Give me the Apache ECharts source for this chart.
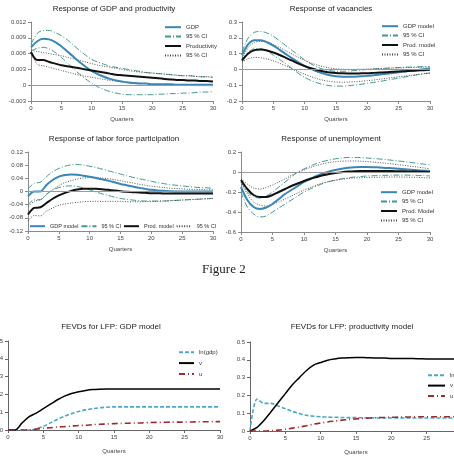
<!DOCTYPE html>
<html>
<head>
<meta charset="utf-8">
<script src="https://cdn.jsdelivr.net/npm/echarts@6/dist/echarts.min.js"></script>
<style>
html,body{margin:0;padding:0;background:#fff;}
#c{width:454px;height:468px;}
</style>
</head>
<body>
<div id="c"></div>
<script>
const quarters = [0,1,2,3,4,5,6,7,8,9,10,11,12,13,14,15,16,17,18,19,20,21,22,23,24,25,26,27,28,29,30];
const xTicks = [0,5,10,15,20,25,30];

// Panel 1: Response of GDP and productivity
const p1Ticks = [-0.003,0,0.003,0.006,0.009,0.012];
const p1Gdp   = [0.0072,0.0083,0.0088,0.0087,0.0082,0.0074,0.0064,0.0054,0.0044,0.0035,0.0027,0.0021,0.0016,0.0012,0.0009,0.0007,0.0005,0.0004,0.0003,0.0003,0.0002,0.0002,0.0002,0.0002,0.0001,0.0001,0.0001,0.0001,0.0001,0.0001,0.0001];
const p1GdpHi = [0.0078,0.0098,0.0104,0.0104,0.0100,0.0094,0.0086,0.0076,0.0066,0.0057,0.0049,0.0044,0.0040,0.0036,0.0034,0.0032,0.0030,0.0028,0.0026,0.0024,0.0023,0.0022,0.0021,0.0020,0.0019,0.0018,0.0018,0.0017,0.0016,0.0016,0.0015];
const p1GdpLo = [0.0065,0.0070,0.0072,0.0069,0.0062,0.0053,0.0042,0.0031,0.0021,0.0012,0.0004,-0.0003,-0.0008,-0.0012,-0.0015,-0.0017,-0.0018,-0.0018,-0.0018,-0.0018,-0.0018,-0.0017,-0.0017,-0.0016,-0.0016,-0.0015,-0.0015,-0.0014,-0.0013,-0.0013,-0.0012];
const p1Prod  = [0.0063,0.0048,0.0048,0.0044,0.0041,0.0038,0.0036,0.0034,0.0032,0.0030,0.0028,0.0026,0.0024,0.0022,0.0020,0.0019,0.0018,0.0017,0.0016,0.0015,0.0014,0.0013,0.0012,0.0011,0.0010,0.0010,0.0009,0.0009,0.0008,0.0008,0.0007];
const p1ProdHi= [0.0066,0.0064,0.0062,0.0060,0.0058,0.0056,0.0053,0.0050,0.0047,0.0044,0.0041,0.0038,0.0036,0.0034,0.0032,0.0030,0.0028,0.0026,0.0025,0.0024,0.0023,0.0022,0.0021,0.0020,0.0019,0.0018,0.0018,0.0017,0.0016,0.0016,0.0015];
const p1ProdLo= [0.0062,0.0040,0.0037,0.0034,0.0031,0.0028,0.0025,0.0022,0.0019,0.0017,0.0015,0.0013,0.0011,0.0009,0.0008,0.0007,0.0006,0.0005,0.0004,0.0003,0.0002,0.0002,0.0001,0.0001,0.0000,0.0000,0.0000,-0.0001,-0.0001,-0.0001,-0.0001];

// Panel 2: Response of vacancies
const p2Ticks = [-0.2,-0.1,0,0.1,0.2,0.3];
const p2Gdp   = [0.09,0.16,0.185,0.185,0.172,0.150,0.124,0.097,0.070,0.044,0.022,0.003,-0.013,-0.027,-0.037,-0.043,-0.046,-0.047,-0.046,-0.044,-0.041,-0.037,-0.033,-0.028,-0.023,-0.018,-0.013,-0.008,-0.003,0.001,0.005];
const p2GdpHi = [0.11,0.20,0.235,0.24,0.23,0.21,0.18,0.15,0.12,0.09,0.06,0.035,0.015,0.0,-0.008,-0.012,-0.012,-0.010,-0.007,-0.004,0.0,0.003,0.006,0.008,0.010,0.012,0.014,0.015,0.016,0.017,0.018];
const p2GdpLo = [0.06,0.11,0.13,0.13,0.115,0.09,0.063,0.035,0.005,-0.025,-0.05,-0.07,-0.085,-0.096,-0.103,-0.106,-0.106,-0.103,-0.099,-0.094,-0.088,-0.082,-0.076,-0.069,-0.062,-0.055,-0.048,-0.041,-0.034,-0.028,-0.022];
const p2Prod  = [0.055,0.10,0.122,0.126,0.12,0.107,0.091,0.073,0.055,0.037,0.021,0.007,-0.004,-0.013,-0.019,-0.023,-0.025,-0.026,-0.026,-0.025,-0.024,-0.022,-0.020,-0.018,-0.015,-0.013,-0.011,-0.009,-0.007,-0.005,-0.003];
const p2ProdHi= [0.07,0.14,0.17,0.178,0.172,0.157,0.139,0.118,0.097,0.076,0.057,0.041,0.028,0.017,0.009,0.004,0.001,0.0,0.0,0.001,0.002,0.003,0.005,0.006,0.008,0.009,0.011,0.012,0.013,0.014,0.015];
const p2ProdLo= [0.045,0.068,0.076,0.074,0.066,0.054,0.039,0.022,0.004,-0.014,-0.031,-0.046,-0.059,-0.069,-0.076,-0.080,-0.081,-0.080,-0.078,-0.075,-0.071,-0.067,-0.062,-0.057,-0.052,-0.047,-0.042,-0.037,-0.032,-0.028,-0.024];

// Panel 3: Response of labor force participation
const p3Ticks = [-0.12,-0.08,-0.04,0,0.04,0.08,0.12];
const p3Gdp   = [-0.015,0.0,0.0,0.02,0.035,0.045,0.050,0.052,0.051,0.048,0.045,0.041,0.037,0.033,0.028,0.023,0.019,0.015,0.011,0.008,0.005,0.003,0.002,0.001,0.0,0.0,0.0,0.0,0.0,0.0,0.0];
const p3GdpHi = [0.008,0.025,0.028,0.045,0.060,0.070,0.077,0.081,0.082,0.080,0.077,0.073,0.068,0.063,0.058,0.053,0.048,0.043,0.039,0.035,0.031,0.027,0.024,0.021,0.019,0.017,0.015,0.013,0.012,0.011,0.010];
const p3GdpLo = [-0.040,-0.025,-0.025,-0.008,0.005,0.012,0.016,0.017,0.015,0.011,0.005,-0.001,-0.007,-0.012,-0.017,-0.021,-0.024,-0.026,-0.028,-0.029,-0.029,-0.029,-0.029,-0.028,-0.027,-0.026,-0.025,-0.024,-0.023,-0.022,-0.021];
const p3Prod  = [-0.070,-0.050,-0.048,-0.035,-0.022,-0.012,-0.004,0.002,0.006,0.008,0.008,0.008,0.007,0.005,0.003,0.001,-0.001,-0.002,-0.003,-0.004,-0.005,-0.005,-0.006,-0.006,-0.006,-0.006,-0.006,-0.006,-0.006,-0.006,-0.006];
const p3ProdHi= [-0.045,-0.030,-0.025,-0.010,0.005,0.018,0.027,0.033,0.038,0.041,0.042,0.042,0.041,0.039,0.036,0.033,0.029,0.026,0.022,0.019,0.016,0.014,0.012,0.010,0.009,0.008,0.007,0.006,0.006,0.005,0.005];
const p3ProdLo= [-0.090,-0.073,-0.074,-0.060,-0.050,-0.042,-0.038,-0.035,-0.033,-0.031,-0.030,-0.030,-0.030,-0.030,-0.030,-0.030,-0.031,-0.031,-0.031,-0.031,-0.030,-0.030,-0.029,-0.028,-0.027,-0.026,-0.025,-0.024,-0.023,-0.022,-0.021];

// Panel 4: Response of unemployment
const p4Ticks = [-0.6,-0.4,-0.2,0,0.2];
const p4Gdp   = [-0.15,-0.28,-0.35,-0.37,-0.355,-0.32,-0.27,-0.22,-0.18,-0.14,-0.10,-0.07,-0.04,-0.015,0.005,0.02,0.033,0.042,0.048,0.05,0.05,0.048,0.045,0.041,0.037,0.032,0.027,0.022,0.017,0.013,0.01];
const p4GdpHi = [-0.10,-0.20,-0.25,-0.26,-0.24,-0.20,-0.15,-0.10,-0.05,0.0,0.03,0.06,0.085,0.105,0.12,0.132,0.14,0.145,0.145,0.143,0.14,0.135,0.13,0.124,0.117,0.11,0.103,0.095,0.087,0.079,0.07];
const p4GdpLo = [-0.20,-0.35,-0.42,-0.45,-0.44,-0.40,-0.36,-0.32,-0.28,-0.24,-0.20,-0.17,-0.14,-0.115,-0.095,-0.08,-0.068,-0.058,-0.05,-0.045,-0.04,-0.037,-0.035,-0.033,-0.032,-0.031,-0.031,-0.032,-0.034,-0.036,-0.04];
const p4Prod  = [-0.08,-0.17,-0.23,-0.25,-0.25,-0.23,-0.20,-0.17,-0.14,-0.115,-0.09,-0.068,-0.05,-0.033,-0.02,-0.01,-0.002,0.004,0.008,0.01,0.011,0.011,0.011,0.01,0.009,0.008,0.007,0.005,0.004,0.002,0.0];
const p4ProdHi= [-0.07,-0.12,-0.16,-0.17,-0.155,-0.13,-0.10,-0.07,-0.035,-0.005,0.02,0.045,0.065,0.082,0.095,0.103,0.108,0.11,0.11,0.108,0.104,0.099,0.093,0.087,0.08,0.072,0.065,0.057,0.049,0.041,0.033];
const p4ProdLo= [-0.10,-0.22,-0.30,-0.33,-0.34,-0.32,-0.30,-0.27,-0.24,-0.21,-0.18,-0.155,-0.13,-0.11,-0.095,-0.082,-0.072,-0.065,-0.06,-0.057,-0.055,-0.053,-0.052,-0.051,-0.05,-0.05,-0.051,-0.052,-0.054,-0.057,-0.06];

// Panel 5: FEVDs for LFP: GDP model
const fevdTicks = [0,0.1,0.2,0.3,0.4,0.5];
const p5LnGdp = [0,0,0,0,0.008,0.02,0.04,0.06,0.077,0.092,0.104,0.113,0.12,0.125,0.128,0.13,0.13,0.13,0.13,0.13,0.13,0.13,0.13,0.13,0.13,0.13,0.13,0.13,0.13,0.13,0.13];
const p5V     = [0,0,0.04,0.075,0.095,0.12,0.145,0.17,0.19,0.205,0.215,0.222,0.227,0.229,0.23,0.23,0.23,0.23,0.23,0.23,0.23,0.23,0.23,0.23,0.23,0.23,0.23,0.23,0.23,0.23,0.23];
const p5U     = [0,0,0,0,0.005,0.01,0.013,0.017,0.019,0.022,0.025,0.027,0.03,0.032,0.034,0.036,0.037,0.038,0.039,0.04,0.042,0.043,0.043,0.044,0.044,0.045,0.045,0.046,0.046,0.047,0.047];

// Panel 6: FEVDs for LFP: productivity model
const p6LnGdp = [0,0.18,0.155,0.155,0.14,0.125,0.11,0.098,0.088,0.083,0.08,0.078,0.077,0.076,0.075,0.075,0.074,0.074,0.073,0.073,0.073,0.073,0.073,0.073,0.073,0.073,0.073,0.073,0.073,0.073,0.073];
const p6V     = [0,0.02,0.06,0.11,0.16,0.21,0.26,0.3,0.34,0.37,0.385,0.398,0.405,0.41,0.412,0.413,0.413,0.411,0.41,0.41,0.408,0.408,0.407,0.407,0.406,0.405,0.405,0.405,0.405,0.405,0.405];
const p6U     = [0,0,0,0.002,0.005,0.01,0.016,0.022,0.03,0.038,0.045,0.051,0.056,0.061,0.065,0.068,0.071,0.073,0.075,0.076,0.077,0.078,0.079,0.079,0.08,0.08,0.08,0.08,0.08,0.08,0.08];

const titles = ['Response of GDP and productivity','Response of vacancies','Response of labor force participation','Response of unemployment','FEVDs for LFP: GDP model','FEVDs for LFP: productivity model'];
const legendLabels = {
  a1:'GDP', a2:'95 % CI', a3:'Productivity', a4:'95 % CI',
  b1:'GDP model', b2:'95 % CI', b3:'Prod. model', b4:'95 % CI',
  c1:'GDP model', c2:'95 % CI', c3:'Prod. model', c4:'95 % CI',
  d1:'GDP model', d2:'95 % CI', d3:'Prod. Model', d4:'95 % CI',
  e1:'ln(gdp)', e2:'v', e3:'u',
  f1:'ln(gdp)', f2:'v', f3:'u'
};

// ---------- layout / styles ----------
const grids = [
  {left:31, top:22, width:182, height:79},
  {left:242, top:22, width:188, height:79},
  {left:28, top:152, width:185, height:79},
  {left:241, top:152, width:189, height:80},
  {left:8, top:341, width:212, height:89},
  {left:250, top:342, width:212, height:89}
];
const yTickSets = [p1Ticks,p2Ticks,p3Ticks,p4Ticks,fevdTicks,fevdTicks];
const titlePos = [[114,5],[331,5],[114,135],[331,135],[111,323],[352,323]];

const ST = {
  blue:   {color:'#3a86b4', width:2, type:'solid'},
  teal:   {color:'#3f9a8c', width:1, type:[6,2,1,2]},
  black:  {color:'#111111', width:2, type:'solid'},
  dot:    {color:'#444444', width:0.9, type:[1,1.5]},
  lnGdp:  {color:'#4aa8c8', width:1.6, type:[4,2]},
  v:      {color:'#000000', width:1.5, type:'solid'},
  u:      {color:'#9e2a2e', width:1.6, type:[6,3,1,3]}
};

function pairs(arr){ return quarters.map((q,i)=>[q, arr[i]]); }
function line(name, g, arr, st, z){
  return {
    name:name, type:'line', xAxisIndex:g, yAxisIndex:g, data:pairs(arr),
    smooth:0.3, symbol:'none', showSymbol:false, silent:true, animation:false,
    lineStyle:{color:st.color, width:st.width, type:st.type},
    itemStyle:{color:st.color}, z:z||2
  };
}
function zeroLine(s){
  s.markLine = {silent:true, symbol:['none','none'], label:{show:false},
    lineStyle:{color:'#9a9a9a', width:1, type:'solid'}, data:[{yAxis:0}], animation:false};
  return s;
}

const series = [
  zeroLine(line('a2',0,p1GdpHi,ST.teal)), line('a2x',0,p1GdpLo,ST.teal),
  line('a4',0,p1ProdHi,ST.dot), line('a4x',0,p1ProdLo,ST.dot),
  line('a1',0,p1Gdp,ST.blue,3), line('a3',0,p1Prod,ST.black,3),

  zeroLine(line('b2',1,p2GdpHi,ST.teal)), line('b2x',1,p2GdpLo,ST.teal),
  line('b4',1,p2ProdHi,ST.dot), line('b4x',1,p2ProdLo,ST.dot),
  line('b1',1,p2Gdp,ST.blue,3), line('b3',1,p2Prod,ST.black,3),

  zeroLine(line('c2',2,p3GdpHi,ST.teal)), line('c2x',2,p3GdpLo,ST.teal),
  line('c4',2,p3ProdHi,ST.dot), line('c4x',2,p3ProdLo,ST.dot),
  line('c1',2,p3Gdp,ST.blue,3), line('c3',2,p3Prod,ST.black,3),

  zeroLine(line('d2',3,p4GdpHi,ST.teal)), line('d2x',3,p4GdpLo,ST.teal),
  line('d4',3,p4ProdHi,ST.dot), line('d4x',3,p4ProdLo,ST.dot),
  line('d1',3,p4Gdp,ST.blue,3), line('d3',3,p4Prod,ST.black,3),

  line('e1',4,p5LnGdp,ST.lnGdp), line('e2',4,p5V,ST.v), line('e3',4,p5U,ST.u),
  line('f1',5,p6LnGdp,ST.lnGdp), line('f2',5,p6V,ST.v), line('f3',5,p6U,ST.u)
];

const axisCol = ['#8a8a8a','#8a8a8a','#8a8a8a','#8a8a8a','#666','#666'];
const xAxes = grids.map((g,i)=>({
  gridIndex:i, type:'value', min:xTicks[0], max:xTicks[xTicks.length-1], interval:xTicks[1]-xTicks[0],
  axisLine:{show:true, onZero:false, lineStyle:{color:axisCol[i], width:1}},
  axisTick:{show:true, length:3, lineStyle:{color:axisCol[i]}},
  axisLabel:{fontSize:6, color:'#444', margin:4, fontFamily:'Liberation Sans'},
  splitLine:{show:false},
  name:'Quarters', nameLocation:'middle', nameGap: i>=4 ? 18 : 15,
  nameTextStyle:{fontSize:6, color:'#444', fontFamily:'Liberation Sans'}
}));
const yAxes = grids.map((g,i)=>{
  const t = yTickSets[i];
  return {
    gridIndex:i, type:'value', min:t[0], max:t[t.length-1], interval:+(t[1]-t[0]).toFixed(6),
    axisLine:{show:true, onZero:false, lineStyle:{color:axisCol[i], width:1}},
    axisTick:{show:true, length:3, lineStyle:{color:axisCol[i]}},
    axisLabel:{fontSize:6, color:'#444', margin:5, fontFamily:'Liberation Sans',
      formatter:v=>String(+v.toFixed(4))},
    splitLine:{show:false}
  };
});

const titleArr = titles.map((t,i)=>({
  text:t, left:titlePos[i][0], top:titlePos[i][1], textAlign:'center', padding:0,
  textStyle:{fontSize:8, fontWeight:'normal', color:'#222', fontFamily:'Liberation Sans'}
}));

const legBase = {selectedMode:false, padding:0, itemWidth:16, itemHeight:8,
  itemStyle:{opacity:0, borderWidth:0, color:'rgba(0,0,0,0)'},
  textStyle:{fontSize:6, color:'#333', fontFamily:'Liberation Sans'},
  formatter:n=>legendLabels[n]};
const legends = [
  Object.assign({}, legBase, {orient:'vertical', left:164, top:24, itemGap:3, data:['a1','a2','a3','a4']}),
  Object.assign({}, legBase, {orient:'vertical', left:381, top:23, itemGap:3, data:['b1','b2','b3','b4']}),
  Object.assign({}, legBase, {orient:'horizontal', left:29, top:223, itemWidth:15, itemGap:2,
    textStyle:{fontSize:5.5, color:'#333', fontFamily:'Liberation Sans'}, data:['c1','c2','c3','c4']}),
  Object.assign({}, legBase, {orient:'vertical', left:380, top:189, itemGap:3, data:['d1','d2','d3','d4']}),
  Object.assign({}, legBase, {orient:'vertical', left:178, top:349, itemWidth:15, itemGap:4.5, data:['e1','e2','e3']}),
  Object.assign({}, legBase, {orient:'vertical', left:427, top:372, itemWidth:17, itemGap:4, data:['f1','f2','f3']})
];

const chart = echarts.init(document.getElementById('c'), null, {renderer:'canvas'});
chart.setOption({
  animation:false,
  backgroundColor:'#ffffff',
  title:titleArr,
  legend:legends,
  grid:grids.map(g=>Object.assign({containLabel:false, outerBoundsMode:'none'}, g)),
  xAxis:xAxes,
  yAxis:yAxes,
  series:series,
  graphic:[{type:'text', left:202, top:263,
    style:{text:'Figure 2', fontSize:13, fontFamily:'Liberation Serif', fill:'#222'}}]
});
</script>
</body>
</html>
